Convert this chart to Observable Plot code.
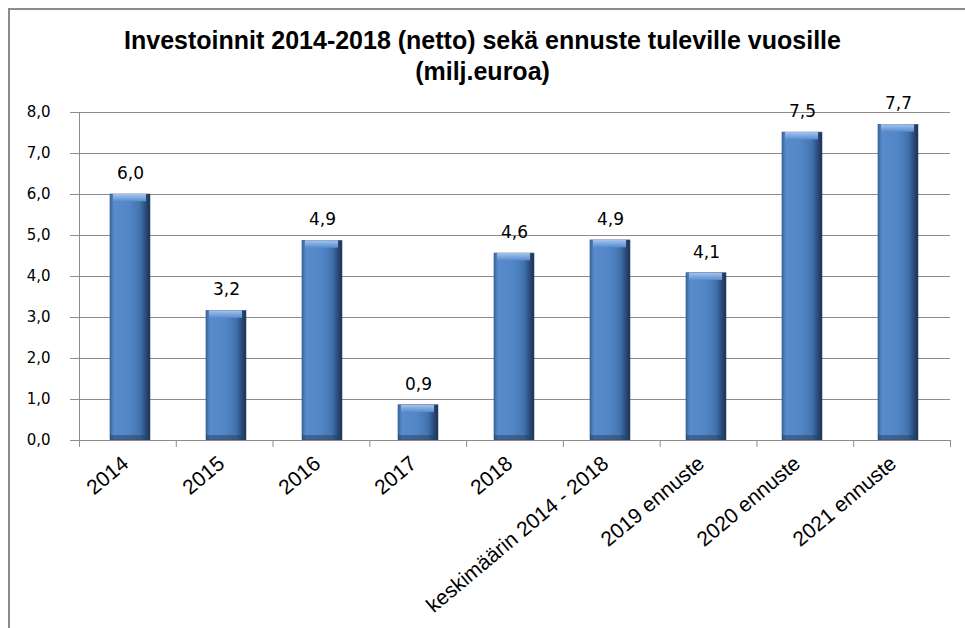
<!DOCTYPE html>
<html><head><meta charset="utf-8">
<script src="https://cdn.jsdelivr.net/npm/d3@7"></script>
<script src="https://cdn.jsdelivr.net/npm/@observablehq/plot@0.6"></script>
<style>
html,body{margin:0;padding:0;background:#fff;}
#wrap{position:relative;width:965px;height:628px;overflow:hidden;}
#frame{position:absolute;left:8px;top:8px;width:1000px;height:700px;border-left:2px solid #8c8c8c;border-top:2px solid #8c8c8c;}
#title{position:absolute;left:0;width:965px;top:25px;text-align:center;font-family:"Liberation Sans",Arial,sans-serif;font-weight:bold;font-size:25px;line-height:31px;color:#000;}
#chart{position:absolute;left:0;top:0;width:965px;height:628px;}
#chart svg{position:absolute;left:0;top:0;background:transparent;max-width:none;}
</style></head>
<body><div id="wrap"><div id="frame"></div><div id="title">Investoinnit 2014-2018 (netto) sekä ennuste tuleville vuosille<br>(milj.euroa)</div><div id="chart"></div></div>
<script>
const categories = ["2014","2015","2016","2017","2018","keskimäärin 2014 - 2018","2019 ennuste","2020 ennuste","2021 ennuste"];
const values = [6.0, 3.16, 4.87, 0.86, 4.56, 4.88, 4.08, 7.51, 7.7];
const yTicks = [0,1,2,3,4,5,6,7,8];

const data = categories.map((c,i)=>({cat:c, v:values[i]}));
const fmt = d => d3.format(".1f")(d).replace(".", ",");

const common = {
  width: 965, height: 628,
  marginTop: 112, marginBottom: 188, marginLeft: 79, marginRight: 15,
  style: {fontFamily: "DejaVu Sans, Verdana, sans-serif", fontSize: "15px", color: "#000", background: "transparent", maxWidth: "none"}
};

const plot = Plot.plot({
  ...common,
  x: {domain: categories, paddingInner: 0.58, paddingOuter: 0.29, axis: null, label: null},
  y: {domain: [0,8], axis: null, label: null},
  marks: [
    Plot.ruleY(yTicks, {stroke: "#8c8c8c", strokeWidth: 1}),
    Plot.barY(data, {x: "cat", y: "v", fill: "url(#barGrad)", stroke: "#34557f", strokeWidth: 0.6}),
    Plot.barY(data, {x: "cat", y1: d => d.v - 0.18, y2: "v", fill: "url(#topGrad)", insetLeft: 3, insetRight: 4}),
    Plot.barY(data, {x: "cat", y1: 0, y2: 0.12, fill: "#23405f", fillOpacity: 0.5}),
    Plot.text(data, {x: "cat", y: "v", text: d => fmt(d.v), dy: -21, fontSize: 17, fill: "#000"}),
    Plot.axisY(yTicks, {tickFormat: fmt, tickSize: 9, tickPadding: 20, stroke: "#8c8c8c", fontSize: 15, fill: "#000", label: null}),
    Plot.axisX({tickSize: 0, tickRotate: -40, textAnchor: "end", tickPadding: 20, dx: -5, fontSize: 21, fontFamily: "Liberation Sans, Arial, sans-serif", fill: "#000", label: null})
  ]
});

const svg = d3.select(plot);
const defs = svg.insert("defs", ":first-child");
const g = defs.append("linearGradient").attr("id","barGrad").attr("x1","0").attr("x2","1").attr("y1","0").attr("y2","0");
[["0%","#3a66a0"],["10%","#5a8bcc"],["50%","#5086c7"],["75%","#4272ae"],["90%","#2a4a75"],["100%","#19304f"]].forEach(([o,c])=>g.append("stop").attr("offset",o).attr("stop-color",c));
const t = defs.append("linearGradient").attr("id","topGrad").attr("x1","0").attr("x2","0").attr("y1","0").attr("y2","1");
[["0%","#a3c5ef"],["100%","#5a8bcc"]].forEach(([o,c])=>t.append("stop").attr("offset",o).attr("stop-color",c));

// axis lines and band-boundary ticks on a linear overlay with the same frame
const bounds = d3.range(categories.length + 1);
const plot2 = Plot.plot({
  ...common,
  x: {domain: [0, categories.length], axis: null, label: null},
  y: {domain: [0,8], axis: null, label: null},
  marks: [
    Plot.ruleX(bounds, {x: d => d, y1: 0, y2: -0.17, stroke: "#8c8c8c"}),
    Plot.ruleX([0], {y1: 0, y2: 8, stroke: "#8c8c8c"}),
    Plot.ruleY([0], {stroke: "#8c8c8c"})
  ]
});
const c = document.getElementById("chart");
c.appendChild(plot);
c.appendChild(plot2);
</script></body></html>
